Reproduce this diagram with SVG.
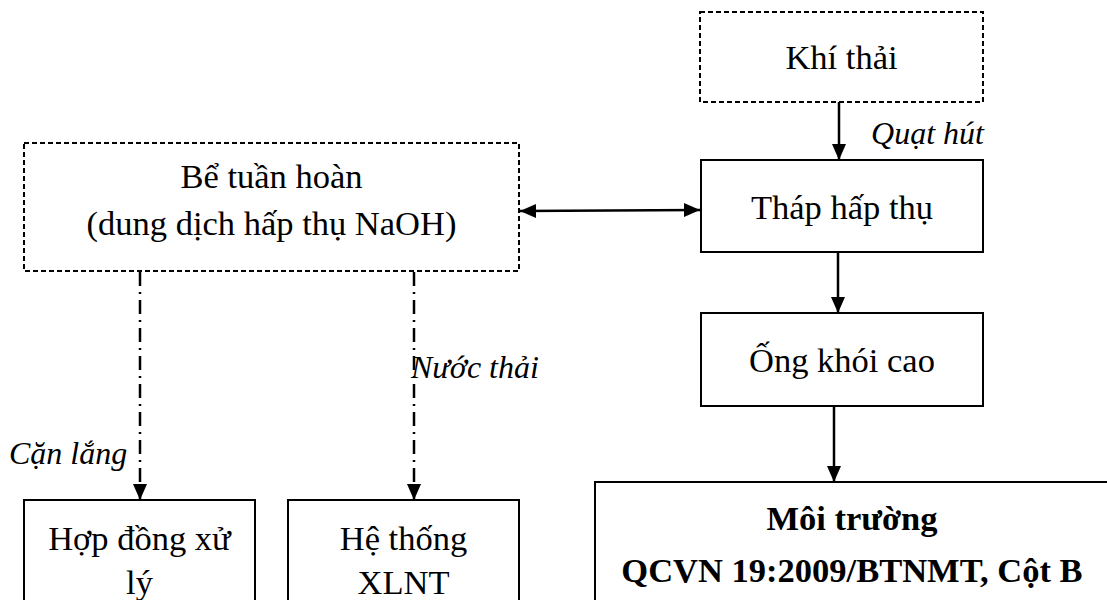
<svg xmlns="http://www.w3.org/2000/svg" width="1107" height="600" viewBox="0 0 1107 600">
  <style>
    .box { fill: #ffffff; stroke: #000000; stroke-width: 2; }
    .dashed { stroke-dasharray: 5 3; }
    .t { font-family: "Liberation Serif", "Times New Roman", serif; font-size: 34.5px; fill: #000000; text-anchor: middle; }
    .b { font-weight: bold; }
    .lbl { font-family: "Liberation Serif", "Times New Roman", serif; font-size: 32px; font-style: italic; fill: #000000; }
    .flow { stroke: #000000; stroke-width: 2.5; fill: none; }
    .dashdot { stroke: #000000; stroke-width: 2.5; fill: none; stroke-dasharray: 14 6 2 6; }
  </style>
  <defs>
    <marker id="arrow" markerUnits="userSpaceOnUse" markerWidth="16" markerHeight="16" refX="16" refY="8" orient="auto-start-reverse">
      <path d="M0,1 L16,8 L0,15 Z" fill="#000000"/>
    </marker>
  </defs>
  <rect width="1107" height="600" fill="#ffffff"/>

  <!-- connectors -->
  <g id="connectors">
    <line class="flow" x1="839" y1="102" x2="839" y2="160" marker-end="url(#arrow)"/>
    <line class="flow" x1="520" y1="211" x2="700" y2="210" marker-start="url(#arrow)" marker-end="url(#arrow)"/>
    <line class="flow" x1="838" y1="253" x2="838" y2="313" marker-end="url(#arrow)"/>
    <line class="flow" x1="834" y1="407" x2="834" y2="482" marker-end="url(#arrow)"/>
    <line class="dashdot" x1="140" y1="272" x2="140" y2="500" marker-end="url(#arrow)"/>
    <line class="dashdot" x1="414" y1="272" x2="414" y2="500" marker-end="url(#arrow)"/>
    <text class="lbl" x="984" y="144" text-anchor="end">Quạt hút</text>
    <text class="lbl" x="411" y="378">Nước thải</text>
    <text class="lbl" x="9" y="464">Cặn lắng</text>
  </g>

  <!-- nodes -->
  <g id="khi-thai">
    <rect class="box dashed" x="700" y="12" width="283" height="90"/>
    <text class="t" x="841.5" y="69">Khí thải</text>
  </g>
  <g id="be-tuan-hoan">
    <rect class="box dashed" x="24" y="143" width="495" height="128"/>
    <text class="t" x="271.5" y="188">Bể tuần hoàn</text>
    <text class="t" x="271.5" y="235">(dung dịch hấp thụ NaOH)</text>
  </g>
  <g id="thap-hap-thu">
    <rect class="box" x="701" y="160" width="282" height="92"/>
    <text class="t" x="842" y="219">Tháp hấp thụ</text>
  </g>
  <g id="ong-khoi-cao">
    <rect class="box" x="701" y="313" width="282" height="93"/>
    <text class="t" x="842" y="372">Ống khói cao</text>
  </g>
  <g id="moi-truong">
    <rect class="box" x="595" y="482" width="530" height="140"/>
    <text class="t b" x="852" y="530">Môi trường</text>
    <text class="t b" x="852" y="582">QCVN 19:2009/BTNMT, Cột B</text>
  </g>
  <g id="hop-dong-xu-ly">
    <rect class="box" x="24" y="500" width="231" height="120"/>
    <text class="t" x="139.5" y="550">Hợp đồng xử</text>
    <text class="t" x="139.5" y="594">lý</text>
  </g>
  <g id="he-thong-xlnt">
    <rect class="box" x="288" y="500" width="231" height="120"/>
    <text class="t" x="403.5" y="550">Hệ thống</text>
    <text class="t" x="403.5" y="594">XLNT</text>
  </g>
</svg>
